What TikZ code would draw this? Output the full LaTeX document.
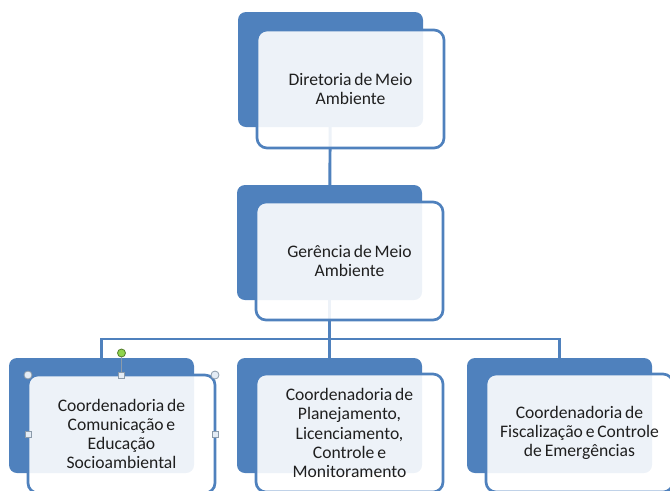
\documentclass[tikz,border=0pt]{standalone}
\usepackage{fontspec}
\setmainfont{Carlito}[WordSpace=0.7]
\usetikzlibrary{backgrounds}
\definecolor{accblue}{HTML}{4F81BD}
\definecolor{handlefill}{HTML}{E4ECF5}
\definecolor{handledraw}{HTML}{8C9BAA}
\definecolor{rotgreen}{HTML}{8FD34C}
\begin{document}
\begin{tikzpicture}[x=0.75pt,y=-0.75pt,
  backbox/.style={fill=accblue, draw=none, rounded corners=6pt, anchor=north west,
    minimum width=138.75pt, minimum height=86.25pt, inner sep=0pt, outer sep=0pt},
  frontbox/.style={fill=white, fill opacity=0.9, draw=accblue, draw opacity=1, line width=2pt,
    rounded corners=7.5pt, anchor=north west,
    minimum width=140.25pt, minimum height=88.5pt, inner sep=0pt, outer sep=0pt},
  boxtext/.style={text=black!88, align=center, font=\fontsize{13.2}{14.3}\selectfont, inner sep=0pt},
  conn/.style={draw=accblue, line width=2.2pt},
  cornerhandle/.style={circle, fill=handlefill, draw=handledraw, line width=0.6pt, minimum size=6pt, inner sep=0pt},
  sidehandle/.style={rectangle, fill=handlefill, draw=handledraw, line width=0.6pt, minimum size=4.5pt, inner sep=0pt},
  rothandle/.style={circle, fill=rotgreen, draw=rotgreen!60!black, line width=0.6pt, minimum size=6pt, inner sep=0pt},
  rotline/.style={draw=handledraw, line width=0.6pt}]
\useasboundingbox (0,0) rectangle (670,490);
\clip (0,0) rectangle (670,490);
\coordinate (bus) at (0,339);
% back boxes
\node[backbox] (T) at (238,12) {};
\node[backbox] (M) at (237,185) {};
\node[backbox] (BL) at (9,358) {};
\node[backbox] (BM) at (237,358) {};
\node[backbox] (BR) at (467,358) {};
% connectors behind the boxes
\begin{pgfonlayer}{background}
  \draw[conn] (T.center) -- (M.center);
  \draw[conn] (M.center) -- (BM.center);
  \draw[conn] (BL.center) -- (BL.center |- bus) -- (BR.center |- bus) -- (BR.center);
\end{pgfonlayer}
% front boxes
\node[frontbox] (Tf) at (257,30) {};
\node[frontbox] (Mf) at (256,202) {};
\node[frontbox] (BLf) at (28,375) {};
\node[frontbox] (BMf) at (256,374) {};
\node[frontbox] (BRf) at (486,374) {};
% texts
\node[boxtext] (Tt) at (Tf.center) {Diretoria de Meio\\Ambiente};
\node[boxtext] (Mt) at (Mf.center) {Gerência de Meio\\Ambiente};
\node[boxtext] (BLt) at (BLf.center) {Coordenadoria de\\Comunicação e\\Educação\\Socioambiental};
\node[boxtext] (BMt) at (BMf.center) {Coordenadoria de\\Planejamento,\\Licenciamento,\\Controle e\\Monitoramento};
\node[boxtext] (BRt) at (BRf.center) {Coordenadoria de\\Fiscalização e Controle\\de Emergências};
% selection handles on the lower-left box
\node[rothandle] (rot) at ([yshift=16.5pt]BLf.north) {};
\draw[rotline] (rot) -- (BLf.north);
\node[cornerhandle] (h1) at (BLf.north west) {};
\node[cornerhandle] (h2) at (BLf.north east) {};
\node[sidehandle] (h3) at (BLf.north) {};
\node[sidehandle] (h4) at (BLf.west) {};
\node[sidehandle] (h5) at (BLf.east) {};
\end{tikzpicture}
\end{document}
